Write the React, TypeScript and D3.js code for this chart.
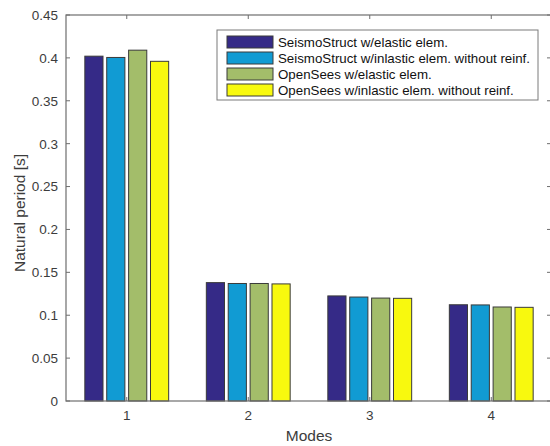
import React from "react";
import * as d3 from "d3";

// Natural periods [s] for the first four modes, by modelling approach
const modes = ["1", "2", "3", "4"];
const seriesNames = [
  "SeismoStruct w/elastic elem.",
  "SeismoStruct w/inlastic elem. without reinf.",
  "OpenSees w/elastic elem.",
  "OpenSees w/inlastic elem. without reinf.",
];
const seismoElastic = [0.402, 0.138, 0.1225, 0.1122];
const seismoInelastic = [0.4005, 0.137, 0.1212, 0.112];
const openSeesElastic = [0.409, 0.137, 0.12, 0.1096];
const openSeesInelastic = [0.396, 0.1365, 0.1197, 0.1092];
const yTicks = [0, 0.05, 0.1, 0.15, 0.2, 0.25, 0.3, 0.35, 0.4, 0.45];
const colors = ["#352a87", "#119bd3", "#a3bd6a", "#f8f90e"];

const series = [seismoElastic, seismoInelastic, openSeesElastic, openSeesInelastic];

const W = 550;
const H = 446;
const left = 66;
const right = 552;
const top = 15;
const bottom = 401;
const font = "'Liberation Sans', Arial, sans-serif";
const axisColor = "#6e6e6e";
const textColor = "#3c3c3c";

export default function App() {
  const y = d3.scaleLinear().domain([0, 0.45]).range([bottom, top]);
  const x0 = d3
    .scaleBand<string>()
    .domain(modes)
    .range([left, right])
    .paddingInner(0.31)
    .paddingOuter(0.155);
  const x1 = d3
    .scaleBand<number>()
    .domain(d3.range(series.length))
    .range([0, x0.bandwidth()])
    .paddingInner(0.17);

  return (
    <svg
      width={W}
      height={H}
      style={{ position: "absolute", left: 0, top: 0, background: "#fff" }}
      fontFamily={font}
    >
      <rect x={0} y={0} width={W} height={H} fill="#fff" />
      {/* bars */}
      {modes.map((m, i) => (
        <g key={m} transform={`translate(${x0(m)},0)`}>
          {series.map((vals, s) => (
            <rect
              key={s}
              x={x1(s)}
              y={y(vals[i])}
              width={x1.bandwidth()}
              height={y(0) - y(vals[i])}
              fill={colors[s]}
              stroke="#3a3a3a"
              strokeWidth={1}
            />
          ))}
        </g>
      ))}
      {/* axes box */}
      <rect
        x={left}
        y={top}
        width={right - left}
        height={bottom - top}
        fill="none"
        stroke={axisColor}
        strokeWidth={1.2}
      />
      {/* y ticks */}
      {yTicks.map((t) => (
        <g key={t}>
          <line x1={left} x2={left + 4} y1={y(t)} y2={y(t)} stroke={axisColor} />
          <line x1={right - 5} x2={right} y1={y(t)} y2={y(t)} stroke={axisColor} />
          <text
            x={left - 8}
            y={y(t)}
            dy="0.36em"
            textAnchor="end"
            fontSize={13.5}
            fill={textColor}
          >
            {String(t)}
          </text>
        </g>
      ))}
      {/* x ticks */}
      {modes.map((m) => {
        const cx = (x0(m) as number) + x0.bandwidth() / 2;
        return (
          <g key={m}>
            <line x1={cx} x2={cx} y1={bottom} y2={bottom - 4} stroke={axisColor} />
            <line x1={cx} x2={cx} y1={top} y2={top + 4} stroke={axisColor} />
            <text x={cx} y={420} textAnchor="middle" fontSize={13.5} fill={textColor}>
              {m}
            </text>
          </g>
        );
      })}
      {/* axis titles */}
      <text
        x={(left + right) / 2}
        y={441}
        textAnchor="middle"
        fontSize={15.5}
        fill={textColor}
      >
        Modes
      </text>
      <text
        transform={`translate(25,${(top + bottom) / 2 + 5}) rotate(-90)`}
        textAnchor="middle"
        fontSize={15.5}
        fill={textColor}
      >
        Natural period [s]
      </text>
      {/* legend */}
      <g>
        <rect x={217} y={30} width={321} height={70} fill="#fff" stroke="#7a7a7a" strokeWidth={1} />
        {seriesNames.map((name, s) => {
          const cy = 42 + s * 16;
          return (
            <g key={name}>
              <rect
                x={227}
                y={cy - 6}
                width={46}
                height={12}
                fill={colors[s]}
                stroke="#3a3a3a"
                strokeWidth={1}
              />
              <text x={278} y={cy} dy="0.36em" fontSize={13.3} fill="#111">
                {name}
              </text>
            </g>
          );
        })}
      </g>
    </svg>
  );
}
